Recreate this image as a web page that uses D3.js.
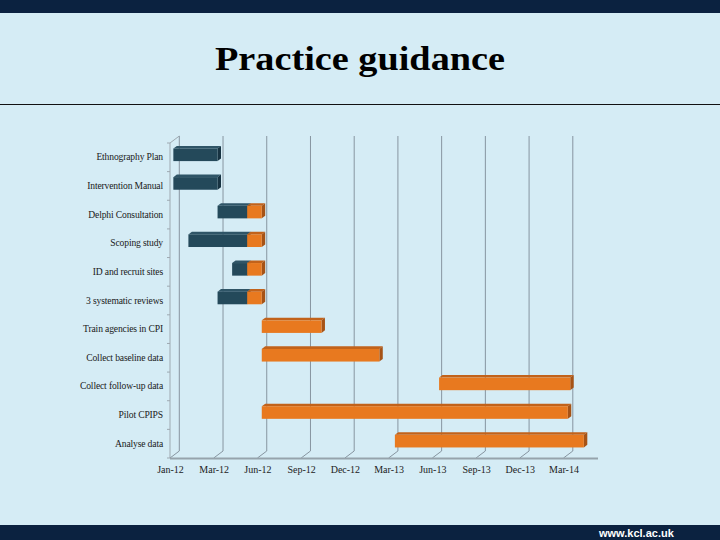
<!DOCTYPE html>
<html>
<head>
<meta charset="utf-8">
<script src="https://cdn.jsdelivr.net/npm/d3@7/dist/d3.min.js"></script>
<style>
  html, body { margin: 0; padding: 0; background: #d5ecf5; }
  svg { display: block; }
</style>
</head>
<body>
<svg id="chart" width="720" height="540"></svg>
<script>
// ---- data (days since 1 Jan 2012) ----
const categories = [
  "Ethnography Plan", "Intervention Manual", "Delphi Consultation", "Scoping study",
  "ID and recruit sites", "3 systematic reviews", "Train agencies in CPI",
  "Collect baseline data", "Collect follow-up data", "Pilot CPIPS", "Analyse data"
];
const startDays  = [0,   0,   91,  31,  121, 91,  182, 182, 547, 182, 456];
const darkDays   = [91,  91,  61,  121, 31,  61,  0,   0,   0,   0,   0];
const orangeDays = [0,   0,   30,  30,  30,  30,  123, 242, 270, 630, 389];
const tickDays   = [0, 90, 180, 270, 360, 450, 540, 630, 720, 810];
const tickLabels = ["Jan-12", "Mar-12", "Jun-12", "Sep-12", "Dec-12", "Mar-13", "Jun-13", "Sep-13", "Dec-13", "Mar-14"];
const title = "Practice guidance";
const footer = "www.kcl.ac.uk";

// ---- layout ----
const W = 720, H = 540;
const svg = d3.select("#chart");
const navy = "#0b2240";

svg.append("rect").attr("x", 0).attr("y", 0).attr("width", W).attr("height", H).attr("fill", "#d5ecf5");
svg.append("rect").attr("x", 0).attr("y", 0).attr("width", W).attr("height", 13).attr("fill", navy);
svg.append("rect").attr("x", 0).attr("y", 525).attr("width", W).attr("height", 15).attr("fill", navy);
svg.append("line").attr("x1", 0).attr("x2", W).attr("y1", 104.5).attr("y2", 104.5)
  .attr("stroke", "#111").attr("stroke-width", 1);

svg.append("text").attr("x", 360).attr("y", 70).attr("text-anchor", "middle")
  .attr("font-family", "'Liberation Serif', 'DejaVu Serif', serif").attr("font-weight", "bold")
  .attr("font-size", 33).attr("fill", "#000")
  .attr("textLength", 290).attr("lengthAdjust", "spacingAndGlyphs").text(title);

svg.append("text").attr("x", 599).attr("y", 537).attr("text-anchor", "start")
  .attr("font-family", "'Liberation Sans', Arial, sans-serif").attr("font-weight", "bold")
  .attr("font-size", 11).attr("fill", "#fff").text(footer);

// ---- scales ----
const x = d3.scaleLinear().domain([0, 881]).range([170, 598]);
const y = d3.scaleBand().domain(categories).range([143, 458]).paddingInner(0.56).paddingOuter(0.28);
const step = y.step();
const yTop = 143, yBot = 458;
const DX = 9.3, DY = 7;          // depth of the 3D box
const bOff = 0.36, bDep = 0.37;  // bar placement inside the depth
const bdx = DX * bDep, bdy = DY * bDep;

const g = svg.append("g");

// left wall
g.append("line").attr("x1", 170).attr("x2", 170).attr("y1", yTop).attr("y2", yBot)
  .attr("stroke", "#9ea9b1").attr("stroke-width", 1);
g.append("line").attr("x1", 170).attr("x2", 170 + DX).attr("y1", yTop).attr("y2", yTop - DY)
  .attr("stroke", "#9ea9b1").attr("stroke-width", 1);
// left ticks at category boundaries
g.selectAll(".ltick").data(d3.range(categories.length + 1)).join("line")
  .attr("x1", 167).attr("x2", 170)
  .attr("y1", i => yTop + i * step).attr("y2", i => yTop + i * step)
  .attr("stroke", "#9ea9b1").attr("stroke-width", 1);

// back wall gridlines and floor diagonals
g.selectAll(".grid").data(tickDays).join("line")
  .attr("x1", d => x(d) + DX).attr("x2", d => x(d) + DX)
  .attr("y1", yTop - DY).attr("y2", yBot - DY)
  .attr("stroke", "#8795a0").attr("stroke-width", 1);
g.selectAll(".diag").data(tickDays).join("line")
  .attr("x1", d => x(d)).attr("x2", d => x(d) + DX)
  .attr("y1", yBot).attr("y2", yBot - DY)
  .attr("stroke", "#8795a0").attr("stroke-width", 1);
// floor front edge
g.append("line").attr("x1", 170).attr("x2", 598).attr("y1", yBot + 0.5).attr("y2", yBot + 0.5)
  .attr("stroke", "#96a3ac").attr("stroke-width", 2);

// bottom axis labels
const xAxis = d3.axisBottom(x).tickValues(tickDays).tickFormat((d, i) => tickLabels[i]).tickSize(0).tickPadding(8);
const gx = svg.append("g").attr("transform", `translate(0,${yBot})`).call(xAxis);
gx.select(".domain").remove();
gx.selectAll("text").attr("font-family", "'Liberation Serif', 'DejaVu Serif', serif")
  .attr("font-size", 10).attr("fill", "#222");

// left axis labels
const yAxis = d3.axisLeft(y).tickSize(0).tickPadding(7);
const gy = svg.append("g").attr("transform", "translate(170,0)").call(yAxis);
gy.select(".domain").remove();
gy.selectAll("text").attr("font-family", "'Liberation Serif', 'DejaVu Serif', serif")
  .attr("font-size", 9.6).attr("fill", "#1a1a1a").attr("letter-spacing", -0.15);

// ---- bars (3D) ----
const segs = [];
categories.forEach((c, i) => {
  const s = startDays[i];
  if (darkDays[i] > 0) segs.push({ c, a: s, b: s + darkDays[i], kind: "dark" });
  if (orangeDays[i] > 0) segs.push({ c, a: s + darkDays[i], b: s + darkDays[i] + orangeDays[i], kind: "orange" });
});
const col = {
  dark:   { front: "#24495a", top: "#2f5567", side: "#173342" },
  orange: { front: "#e8791f", top: "#c2621a", side: "#a65316" }
};
const ox = DX * bOff, oy = DY * bOff;
const bars = svg.append("g");
segs.forEach(sg => {
  const x0 = x(sg.a) + ox, x1 = x(sg.b) + ox;
  const y0 = y(sg.c) - oy, y1 = y0 + y.bandwidth();
  const cc = col[sg.kind];
  const bg = bars.append("g");
  bg.append("path").attr("d", `M${x0},${y0}L${x0 + bdx},${y0 - bdy}L${x1 + bdx},${y0 - bdy}L${x1},${y0}Z`).attr("fill", cc.top);
  bg.append("path").attr("d", `M${x1},${y0}L${x1 + bdx},${y0 - bdy}L${x1 + bdx},${y1 - bdy}L${x1},${y1}Z`).attr("fill", cc.side);
  bg.append("rect").attr("x", x0).attr("y", y0).attr("width", x1 - x0).attr("height", y1 - y0).attr("fill", cc.front);
});
</script>
</body>
</html>
